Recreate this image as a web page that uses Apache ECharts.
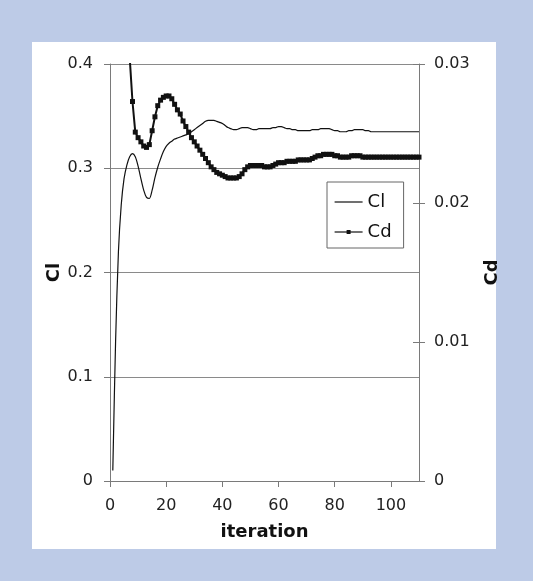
<!DOCTYPE html>
<html>
<head>
<meta charset="utf-8">
<title>Cl and Cd convergence</title>
<script src="https://cdn.jsdelivr.net/npm/echarts@6/dist/echarts.min.js"></script>
<style>
  html, body { margin: 0; padding: 0; background: #bdcbe7; }
  #chart { width: 533px; height: 581px; }
</style>
</head>
<body>
<div id="chart"></div>
<script>
// Lift coefficient per iteration, starting at iteration 1
const clFirstIteration = 1;
const clValues = [
  0.010, 0.135, 0.220, 0.265, 0.290, 0.303, 0.311, 0.314, 0.311, 0.302,
  0.290, 0.279, 0.272, 0.271, 0.279, 0.291, 0.301, 0.309, 0.316, 0.321,
  0.324, 0.326, 0.328, 0.329, 0.330, 0.331, 0.332, 0.333, 0.335, 0.337,
  0.339, 0.341, 0.343, 0.345, 0.346, 0.346, 0.346, 0.345, 0.344, 0.343,
  0.341, 0.339, 0.338, 0.337, 0.337, 0.338, 0.339, 0.339, 0.339, 0.338,
  0.337, 0.337, 0.338, 0.338, 0.338, 0.338, 0.338, 0.339, 0.339, 0.340,
  0.340, 0.339, 0.338, 0.338, 0.337, 0.337, 0.336, 0.336, 0.336, 0.336,
  0.336, 0.337, 0.337, 0.337, 0.338, 0.338, 0.338, 0.338, 0.337, 0.336,
  0.336, 0.335, 0.335, 0.335, 0.336, 0.336, 0.337, 0.337, 0.337, 0.337,
  0.336, 0.336, 0.335, 0.335, 0.335, 0.335, 0.335, 0.335, 0.335, 0.335,
  0.335, 0.335, 0.335, 0.335, 0.335, 0.335, 0.335, 0.335, 0.335, 0.335
];

// Drag coefficient per iteration, starting at iteration 7
const cdFirstIteration = 7;
const cdValues = [
  0.0305, 0.0273, 0.0251, 0.0247, 0.0244, 0.0241, 0.0240, 0.0242, 0.0252, 0.0262,
  0.0270, 0.0274, 0.0276, 0.0277, 0.0277, 0.0275, 0.0271, 0.0267, 0.0264, 0.0259,
  0.0255, 0.0251, 0.0247, 0.0244, 0.0241, 0.0238, 0.0235, 0.0232, 0.0229, 0.0226,
  0.0224, 0.0222, 0.0221, 0.0220, 0.0219, 0.0218, 0.0218, 0.0218, 0.0218, 0.0219,
  0.0221, 0.0224, 0.0226, 0.0227, 0.0227, 0.0227, 0.0227, 0.0227, 0.0226, 0.0226,
  0.0226, 0.0227, 0.0228, 0.0229, 0.0229, 0.0229, 0.0230, 0.0230, 0.0230, 0.0230,
  0.0231, 0.0231, 0.0231, 0.0231, 0.0231, 0.0232, 0.0233, 0.0234, 0.0234, 0.0235,
  0.0235, 0.0235, 0.0235, 0.0234, 0.0234, 0.0233, 0.0233, 0.0233, 0.0233, 0.0234,
  0.0234, 0.0234, 0.0234, 0.0233, 0.0233, 0.0233, 0.0233, 0.0233, 0.0233, 0.0233,
  0.0233, 0.0233, 0.0233, 0.0233, 0.0233, 0.0233, 0.0233, 0.0233, 0.0233, 0.0233,
  0.0233, 0.0233, 0.0233, 0.0233
];

// Axis ranges
const iterationRange = [0, 110];
const iterationStep = 20;
const clRange = [0, 0.4];
const clStep = 0.1;
const cdRange = [0, 0.03];
const cdStep = 0.01;

const FONT = '"DejaVu Sans", "Liberation Sans", Arial, sans-serif';
const AXIS_GREY = '#7a7a7a';

const clData = clValues.map((v, i) => [clFirstIteration + i, v]);
const cdData = cdValues.map((v, i) => [cdFirstIteration + i, v]);

const chart = echarts.init(document.getElementById('chart'), null, { renderer: 'canvas' });

const grid = { left: 110, right: 114, top: 64, bottom: 100 };

chart.setOption({
  backgroundColor: '#bdcbe7',
  animation: false,
  graphic: [{
    type: 'rect',
    z: -10,
    shape: { x: 32, y: 42, width: 464, height: 507 },
    style: { fill: '#ffffff' },
    silent: true
  }],
  grid: grid,
  legend: {
    orient: 'vertical',
    left: 327,
    top: 182,
    padding: [11, 12, 7, 7],
    itemWidth: 28,
    itemHeight: 5,
    itemGap: 12,
    backgroundColor: '#ffffff',
    borderColor: '#666666',
    borderWidth: 1,
    textStyle: { fontFamily: FONT, fontSize: 18, color: '#111', lineHeight: 18 },
    data: [
      { name: 'Cl', itemStyle: { opacity: 0 }, lineStyle: { width: 1.2 } },
      { name: 'Cd', lineStyle: { width: 1.2 } }
    ]
  },
  xAxis: {
    type: 'value',
    min: iterationRange[0],
    max: iterationRange[1],
    interval: iterationStep,
    name: 'iteration',
    nameLocation: 'middle',
    nameGap: 42,
    nameTextStyle: { fontFamily: FONT, fontSize: 18, fontWeight: 'bold', color: '#111' },
    axisLine: { onZero: false, lineStyle: { color: AXIS_GREY, width: 1 } },
    axisTick: { show: true, length: 6, lineStyle: { color: AXIS_GREY } },
    axisLabel: { fontFamily: FONT, fontSize: 16, color: '#222', margin: 17, showMaxLabel: false },
    splitLine: { show: false }
  },
  yAxis: [
    {
      type: 'value',
      position: 'left',
      min: clRange[0],
      max: clRange[1],
      interval: clStep,
      name: 'Cl',
      nameLocation: 'middle',
      nameGap: 47,
      nameMoveOverlap: false,
      nameRotate: 90,
      nameTextStyle: { fontFamily: FONT, fontSize: 18, fontWeight: 'bold', color: '#111' },
      axisLine: { show: true, lineStyle: { color: AXIS_GREY, width: 1 } },
      axisTick: { show: true, length: 6, lineStyle: { color: AXIS_GREY } },
      axisLabel: { fontFamily: FONT, fontSize: 16, color: '#222', margin: 17 },
      splitLine: { show: true, lineStyle: { color: '#8a8a8a', width: 1 } }
    },
    {
      type: 'value',
      position: 'right',
      min: cdRange[0],
      max: cdRange[1],
      interval: cdStep,
      name: 'Cd',
      nameLocation: 'middle',
      nameGap: 64,
      nameMoveOverlap: false,
      nameRotate: 90,
      nameTextStyle: { fontFamily: FONT, fontSize: 18, fontWeight: 'bold', color: '#111' },
      axisLine: { show: true, lineStyle: { color: AXIS_GREY, width: 1 } },
      axisTick: { show: true, length: 6, lineStyle: { color: AXIS_GREY } },
      axisLabel: {
        fontFamily: FONT, fontSize: 16, color: '#222', margin: 15,
        formatter: v => (v === 0 ? '0' : v.toFixed(2))
      },
      splitLine: { show: false }
    },
    {
      // inner half of the crossing tick marks on the Cd axis
      type: 'value',
      position: 'right',
      min: cdRange[0],
      max: cdRange[1],
      interval: cdStep,
      axisLine: { show: false },
      axisTick: { show: true, inside: true, length: 6, lineStyle: { color: AXIS_GREY } },
      axisLabel: { show: false },
      splitLine: { show: false }
    }
  ],
  series: [
    {
      name: 'Cl',
      type: 'line',
      yAxisIndex: 0,
      data: clData,
      symbol: 'none',
      smooth: 0.3,
      clip: true,
      lineStyle: { color: '#111111', width: 1.2 },
      itemStyle: { color: '#111111' }
    },
    {
      name: 'Cd',
      type: 'line',
      yAxisIndex: 1,
      data: cdData,
      symbol: 'rect',
      symbolSize: 5,
      showAllSymbol: true,
      clip: true,
      lineStyle: { color: '#111111', width: 2 },
      itemStyle: { color: '#111111', borderWidth: 0 }
    }
  ]
});
</script>
</body>
</html>
